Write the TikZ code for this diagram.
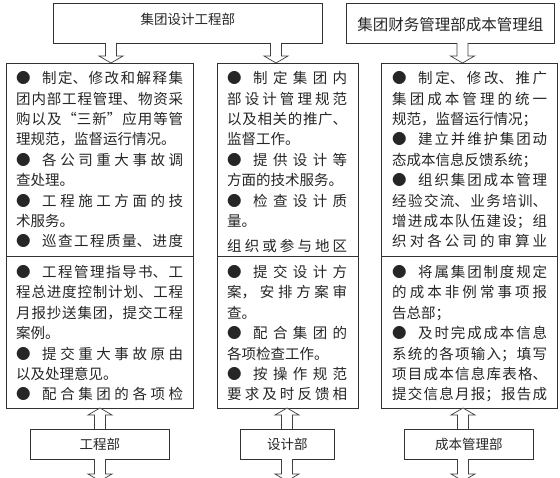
\documentclass[tikz,border=0pt]{standalone}
\usepackage{fontspec}
\setmainfont{Noto Sans CJK SC}
\usetikzlibrary{calc}
\XeTeXlinebreaklocale "zh"
\XeTeXlinebreakskip=0pt plus 1fil
\newcommand\bul{\makebox[26pt][l]{●}}
\newcommand\jpar{{\parfillskip=0pt\par}}
\newcommand\harr[2]{%
  \draw[harrow] let \p1=(#1), \p2=(#2), \p3=($(#2)!7pt!(#1)$) in
  (\x1-5.5pt,\y1) -- (\x1-5.5pt,\y3) -- (\x1-12pt,\y3) -- (\x2,\y2) --
  (\x1+12pt,\y3) -- (\x1+5.5pt,\y3) -- (\x1+5.5pt,\y1);}
\tikzset{
  box/.style={draw=black!80, line width=0.8pt, fill=white, inner sep=0pt, anchor=north west, text=black!85},
  hdr/.style={inner sep=0pt, text=black!85, font=\fontsize{#1}{#1}\selectfont},
  coltext/.style={anchor=base west, inner sep=0pt, text width=#1, align=justify,
    text=black!85, font=\fontsize{14.5}{20.4}\selectfont},
  harrow/.style={draw=black!75, line width=0.7pt, fill=white},
}
\begin{document}
\begin{tikzpicture}[x=1pt,y=-1pt]
\useasboundingbox (0,0) rectangle (560,478);
\fill[white] (0,0) rectangle (560,478);
\clip (0,0) rectangle (560,478);
% top boxes
\node[box, minimum width=269pt, minimum height=40pt] (g1) at (53,3) {};
\node[hdr=13.5] (g1t) at ($(g1.center)+(0,-4)$) {集团设计工程部};
\node[box, minimum width=208pt, minimum height=40pt] (g2) at (346,3) {};
\node[hdr=15.5] (g2t) at ($(g2.center)+(0,1.5)$) {集团财务管理部成本管理组};
% columns
\node[box, minimum width=187pt, minimum height=193.5pt] (c1a) at (6,63) {};
\node[box, minimum width=187pt, minimum height=151.5pt] (c1b) at (6,256.5) {};
\node[box, minimum width=141pt, minimum height=193.5pt] (c2a) at (217,63) {};
\node[box, minimum width=141pt, minimum height=151.5pt] (c2b) at (217,256.5) {};
\node[box, minimum width=176pt, minimum height=193.5pt] (c3a) at (381,63) {};
\node[box, minimum width=176pt, minimum height=151.5pt] (c3b) at (381,256.5) {};
% bottom boxes
\node[box, minimum width=139pt, minimum height=30pt, font=\fontsize{13.5}{14}\selectfont] (b1) at (30,429) {工程部};
\node[box, minimum width=94pt, minimum height=30pt, font=\fontsize{13.5}{14}\selectfont] (b2) at (240,429) {设计部};
\node[box, minimum width=129pt, minimum height=30pt, font=\fontsize{13.5}{14}\selectfont] (b3) at (404,429) {成本管理部};
% column texts
\node[coltext=167pt] (t1a) at (16,83.8) {\parindent=0pt\parfillskip=0pt plus 1fill\relax
\bul 制定、修改和解释集\linebreak 团内部工程管理、物资采\linebreak 购以及“三新”应用等管\linebreak 理规范，监督运行情况。\par
\bul 各公司重大事故调\linebreak 查处理。\par
\bul 工程施工方面的技\linebreak 术服务。\par
\bul 巡查工程质量、进度\jpar};
\node[coltext=167pt] (t1b) at (16,277.5) {\parindent=0pt\parfillskip=0pt plus 1fill\relax
\bul 工程管理指导书、工\linebreak 程总进度控制计划、工程\linebreak 月报抄送集团，提交工程\linebreak 案例。\par
\bul 提交重大事故原由\linebreak 以及处理意见。\par
\bul 配合集团的各项检\jpar};
\node[coltext=120pt] (t2a) at (227,83.8) {\parindent=0pt\parfillskip=0pt plus 1fill\relax
\bul 制定集团内\linebreak 部设计管理规范\linebreak 以及相关的推广、\linebreak 监督工作。\par
\bul 提供设计等\linebreak 方面的技术服务。\par
\bul 检查设计质\linebreak 量。\par
\vspace{5pt}组织或参与地区\jpar};
\node[coltext=120pt] (t2b) at (227,277.5) {\parindent=0pt\parfillskip=0pt plus 1fill\relax
\bul 提交设计方\linebreak 案，安排方案审\linebreak 查。\par
\bul 配合集团的\linebreak 各项检查工作。\par
\bul 按操作规范\linebreak 要求及时反馈相\jpar};
\node[coltext=155pt] (t3a) at (392,83.8) {\parindent=0pt\parfillskip=0pt plus 1fill\relax
\bul 制定、修改、推广\linebreak 集团成本管理的统一\linebreak 规范，监督运行情况；\par
\bul 建立并维护集团动\linebreak 态成本信息反馈系统；\par
\bul 组织集团成本管理\linebreak 经验交流、业务培训、\linebreak 增进成本队伍建设；组\linebreak 织对各公司的审算业\jpar};
\node[coltext=155pt] (t3b) at (392,277.5) {\parindent=0pt\parfillskip=0pt plus 1fill\relax
\bul 将属集团制度规定\linebreak 的成本非例常事项报\linebreak 告总部；\par
\bul 及时完成成本信息\linebreak 系统的各项输入；填写\linebreak 项目成本信息库表格、\linebreak 提交信息月报；报告成\jpar};
% arrow end points
\coordinate (a1s) at (111,43);   \coordinate (a1e) at (111,63);
\coordinate (a2s) at (276,43);   \coordinate (a2e) at (276,63);
\coordinate (a3s) at (462.5,43); \coordinate (a3e) at (462.5,63);
\coordinate (u1s) at (100,429);  \coordinate (u1e) at (100,408);
\coordinate (u2s) at (287,429);  \coordinate (u2e) at (287,408);
\coordinate (u3s) at (463,429);  \coordinate (u3e) at (463,408);
\coordinate (d1s) at (100,459);  \coordinate (d1e) at (100,481);
\coordinate (d2s) at (287,459);  \coordinate (d2e) at (287,481);
\coordinate (d3s) at (463,459);  \coordinate (d3e) at (463,481);
\harr{a1s}{a1e}
\harr{a2s}{a2e}
\harr{a3s}{a3e}
\harr{u1s}{u1e}
\harr{u2s}{u2e}
\harr{u3s}{u3e}
\harr{d1s}{d1e}
\harr{d2s}{d2e}
\harr{d3s}{d3e}
\end{tikzpicture}
\end{document}
